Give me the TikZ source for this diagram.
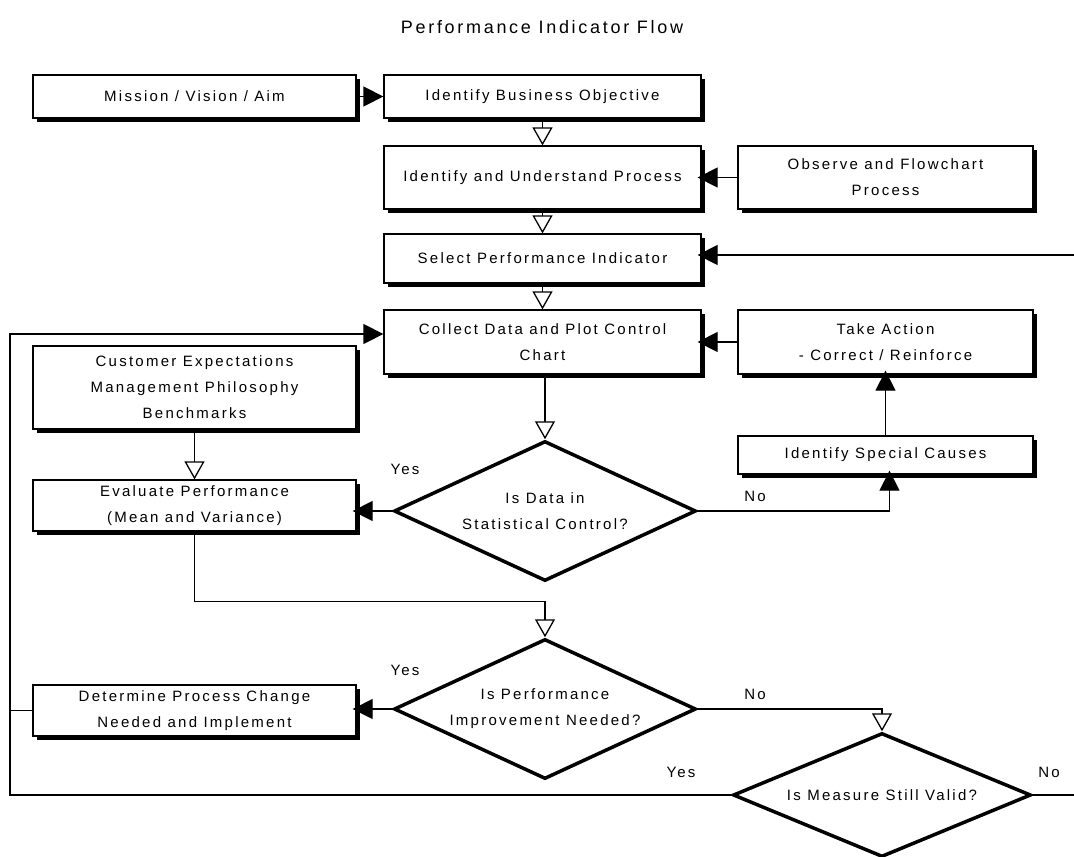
\documentclass[tikz,border=0pt]{standalone}
\usepackage{fontspec}
\setmainfont{Liberation Sans}[LetterSpace=15]
\usetikzlibrary{arrows.meta,shapes.geometric,shadows,calc}
\begin{document}
\begin{tikzpicture}[x=1pt,y=-1pt,
  every node/.style={font=\fontsize{15pt}{26pt}\selectfont},
  box/.style={draw, line width=1.3pt, fill=white, inner sep=0pt, align=center,
    drop shadow={shadow xshift=4pt, shadow yshift=-4pt, opacity=1, fill=black}},
  lbox/.style={box, minimum width=323pt},
  cbox/.style={box, minimum width=317pt},
  rbox/.style={box, minimum width=295pt},
  dec/.style={draw, shape=diamond, line width=3.5pt, line join=miter, fill=white,
    inner sep=0pt, align=center, shape aspect=2.2},
  conn/.style={line width=1.3pt},
  solidarr/.style={conn, -{Triangle[length=20pt,width=20pt]}},
  openarr/.style={conn, -{Triangle[open,length=18pt,width=20pt,fill=white]}},
  lbl/.style={inner sep=0pt}
]
\useasboundingbox (0,0) rectangle (1074,857);

\node[font=\fontsize{18pt}{22pt}\selectfont] (title) at (542,27) {Performance Indicator Flow};

% boxes
\node[lbox, minimum height=43pt] (mission) at (194.5,96.5) {Mission / Vision / Aim};
\node[cbox, minimum height=43pt] (ibo) at (542.5,96.5) {Identify Business Objective};
\node[cbox, minimum height=63pt] (iup) at (542.5,177.5) {Identify and Understand Process};
\node[rbox, minimum height=63pt] (observe) at (885.5,177.5) {Observe and Flowchart\\Process};
\node[cbox, minimum height=49pt] (select) at (542.5,258.5) {Select Performance Indicator};
\node[cbox, minimum height=64pt] (collect) at (542.5,342) {Collect Data and Plot Control\\Chart};
\node[rbox, minimum height=64pt] (takeact) at (885.5,342) {Take Action\\- Correct / Reinforce};
\node[lbox, minimum height=83pt] (customer) at (194.5,387.5) {Customer Expectations\\Management Philosophy\\Benchmarks};
\node[lbox, minimum height=51pt] (evaluate) at (194.5,505.5) {Evaluate Performance\\(Mean and Variance)};
\node[rbox, minimum height=38pt] (isc) at (885.5,455) {Identify Special Causes};
\node[lbox, minimum height=51pt] (determine) at (194.5,710.5) {Determine Process Change\\Needed and Implement};

% decisions
\node[dec, minimum width=302pt, minimum height=140pt] (d1) at (545,511) {Is Data in\\Statistical Control?};
\node[dec, minimum width=302pt, minimum height=140pt] (d2) at (545,709) {Is Performance\\Improvement Needed?};
\node[dec, minimum width=298pt, minimum height=124pt] (d3) at (882,795) {Is Measure Still Valid?};

% free ends
\coordinate (rin) at (1074,255);
\coordinate (rout) at (1074,795);
\coordinate (looptl) at (10,334);

% connectors
\draw[solidarr] (mission.east) -- (ibo.west);
\draw[openarr] (ibo.south) -- (iup.north);
\draw[openarr] (iup.south) -- (select.north);
\draw[openarr] (select.south) -- (collect.north);
\draw[solidarr, shorten >=-4pt] (observe.west) -- (iup.east);
\draw[solidarr, shorten >=-4pt] (rin) -- (select.east |- rin);
\draw[solidarr, shorten >=-4pt] (takeact.west) -- (collect.east);
\draw[solidarr, shorten >=-4pt] (isc.north) -- (takeact.south);
\draw[openarr] (d1.north |- collect.south) -- (d1.north);
\draw[solidarr, shorten >=-4pt] (d1.west) -- (evaluate.east |- d1.west);
\draw[solidarr, shorten >=-4pt] (d1.east) -| ($(isc.south)+(4,0)$);
\draw[openarr] (customer.south) -- (evaluate.north);
\draw[openarr] (evaluate.south) |- ($(d2.north)+(0,-36)$) -- (d2.north);
\draw[solidarr, shorten >=-4pt] (d2.west) -- (determine.east |- d2.west);
\draw[openarr] (d2.east) -| (d3.north);
\draw[conn] (d3.east) -- (rout);
\draw[solidarr] (d3.west) -- (d3.west -| looptl) -- (looptl) -- (collect.west |- looptl);
\draw[conn] (determine.west) -- (determine.west -| looptl);

% labels
\node[lbl] (yes1) at (405,469) {Yes};
\node[lbl] (no1) at (755,496) {No};
\node[lbl] (yes2) at (405,670) {Yes};
\node[lbl] (no2) at (755,694) {No};
\node[lbl] (yes3) at (681,772) {Yes};
\node[lbl] (no3) at (1049,772) {No};
\end{tikzpicture}
\end{document}
